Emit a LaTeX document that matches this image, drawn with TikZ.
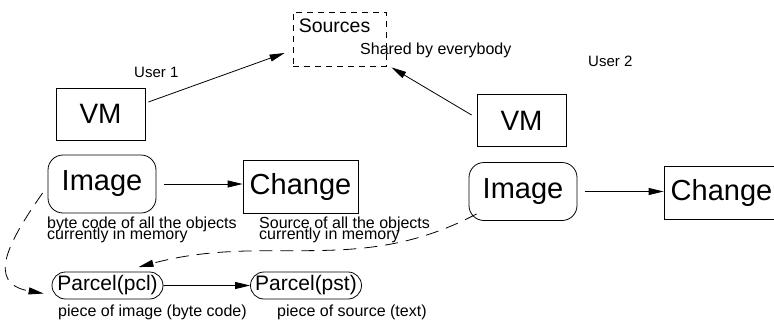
\documentclass[tikz,border=0pt]{standalone}
\usepackage{fontspec}
\setmainfont{Liberation Sans}
\usetikzlibrary{arrows.meta}
\usetikzlibrary{positioning}
\usetikzlibrary{shapes.misc}
\usetikzlibrary{calc}

\newcommand{\notefont}{\fontsize{16}{10.5}\selectfont\lineskiplimit=-100pt\relax}

\begin{document}
\begin{tikzpicture}[
    x=1pt, y=1pt,
    >={Triangle[length=15pt, width=7pt]},
    box/.style = {
      draw, rectangle, line width=0.8pt,
      inner sep = 0pt,
    },
    vmbox/.style = {
      box, minimum width = 89pt, minimum height = 52pt,
      font = \fontsize{28}{30}\selectfont,
    },
    imgbox/.style = {
      box, rounded corners = 15pt,
      minimum width = 108pt, minimum height = 58pt,
      font = \fontsize{29}{31}\selectfont,
    },
    chgbox/.style = {
      box, minimum width = 115pt, minimum height = 53pt,
      font = \fontsize{29}{31}\selectfont,
    },
    pclbox/.style = {
      draw, rounded rectangle, line width=0.8pt,
      inner sep = 0pt,
      minimum width = 111pt, minimum height = 27pt,
      font = \fontsize{21}{23}\selectfont,
    },
    note/.style = {
      inner sep = 0pt, align = left,
      font = \notefont,
    },
    usertext/.style = {
      inner sep = 0pt,
      font = \fontsize{15}{17}\selectfont,
    },
    flow/.style = {line width=0.8pt, ->},
    hop/.style = {line width=0.8pt, ->, dash pattern = on 13pt off 8pt},
  ]
  \useasboundingbox (0,0) rectangle (774,-327);

  % shared sources
  \node[box, dash pattern = on 6pt off 5pt,
    minimum width = 93pt, minimum height = 54pt] (src) at (339.5,-39) {};
  \node[inner sep=0pt, anchor=north west, font=\fontsize{19.5}{21}\selectfont]
    (srcname) at ([shift={(6,-7)}]src.north west) {Sources};
  \node[note, anchor=base west] (shared) at (360,-54) {Shared by everybody};

  \node[usertext, anchor=base west] (user1) at (134,-77) {User 1};
  \node[usertext, anchor=base west] (user2) at (588,-66) {User 2};

  % the two machines
  \node[vmbox] (vm1) at (100.5,-114) {VM};
  \node[vmbox] (vm2) at (521.5,-120.5) {VM};

  \draw[flow] ([shift={(3,12)}]vm1.east) -- ([shift={(-8,-14)}]src.west);
  \draw[flow] ([shift={(-5,5.5)}]vm2.west) -- ([shift={(5,-1)}]src.south east);

  % images and changes
  \node[imgbox] (img1) at (102,-184) {Image};
  \node[chgbox] (chg1) at (300.5,-186.5) {Change};
  \node[imgbox] (img2) at (523,-191.5) {Image};
  \node[chgbox] (chg2) at (721.5,-193) {Change};

  \draw[flow, shorten <= 8pt] (img1.east) -- (img1.east -| chg1.west);
  \draw[flow, shorten <= 8pt] (img2.east) -- (img2.east -| chg2.west);

  \node[note, anchor=north west] (img1note) at (47,-217)
    {byte code of all the objects\\currently in memory};
  \node[note, anchor=north west] (chg1note) at (259,-217)
    {Source of all the objects\\currently in memory};

  % parcels
  \node[pclbox] (pcl) at (107.5,-285.5) {Parcel(pcl)};
  \node[pclbox] (pst) at (306,-285.5) {Parcel(pst)};

  \draw[flow] (pcl) -- (pst);

  \node[note, anchor=base west] (pclnote) at (58,-316) {piece of image (byte code)};
  \node[note, anchor=base west] (pstnote) at (277,-316) {piece of source (text)};

  \draw[hop] ([shift={(-5,-9)}]img1.west)
    to[out=235, in=170, looseness=1.5] ([shift={(-8,-8)}]pcl.west);
  \draw[hop] ([shift={(8,7)}]img2.south west)
    to[out=208, in=15] ([shift={(-11,4.5)}]pcl.north east);
\end{tikzpicture}
\end{document}
